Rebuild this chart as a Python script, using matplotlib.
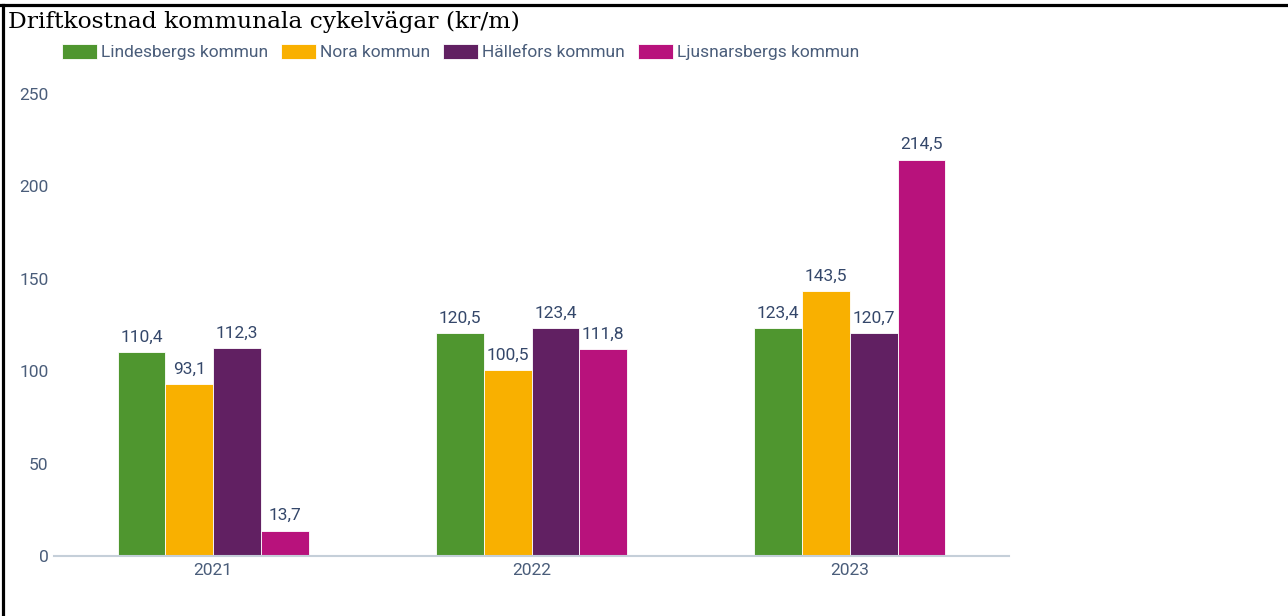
import matplotlib
matplotlib.use("Agg")
import matplotlib.pyplot as plt
from matplotlib.lines import Line2D
import numpy as np

years = ["2021", "2022", "2023"]
kommuner = ["Lindesbergs kommun", "Nora kommun", "Hällefors kommun", "Ljusnarsbergs kommun"]
lindesberg = [110.4, 120.5, 123.4]
nora = [93.1, 100.5, 143.5]
hallefors = [112.3, 123.4, 120.7]
ljusnarsberg = [13.7, 111.8, 214.5]
colors = ["#4f962f", "#f9b000", "#612062", "#b8127c"]
yticks = [0, 50, 100, 150, 200, 250]

TXT = "#4a5d7a"
LAB = "#34476a"
FS = 12.5

W, H = 1288, 616
fig = plt.figure(figsize=(W / 100, H / 100), dpi=100)
ax = fig.add_axes([54 / W, 1 - 556 / H, (1009 - 54) / W, (556 - 94) / H])

x = np.arange(len(years))
w = 0.15
series = [lindesberg, nora, hallefors, ljusnarsberg]
for i, (vals, col, name) in enumerate(zip(series, colors, kommuner)):
    pos = x + (i - 1.5) * w
    ax.bar(pos, vals, w, color=col, label=name, edgecolor="white", linewidth=0.6)
    for xp, v in zip(pos, vals):
        ax.text(xp, v + 4, ("%.1f" % v).replace(".", ","), ha="center", va="bottom",
                fontsize=FS, color=LAB, family="Roboto")

ax.set_xlim(-0.5, 2.5)
ax.set_ylim(0, 250)
ax.set_yticks(yticks)
ax.set_xticks(x)
ax.set_xticklabels(years)
for s in ["top", "right", "left"]:
    ax.spines[s].set_visible(False)
ax.spines["bottom"].set_color("#c5cfd9")
ax.spines["bottom"].set_linewidth(1.5)
ax.tick_params(axis="both", length=0, labelsize=FS, labelcolor=TXT)
ax.tick_params(axis="y", pad=4)
ax.tick_params(axis="x", pad=5)
for t in ax.get_xticklabels() + ax.get_yticklabels():
    t.set_family("Roboto")

fig.text(8 / W, 1 - 22 / H, "Driftkostnad kommunala cykelvägar (kr/m)", ha="left", va="center",
         fontsize=16.8, family="DejaVu Serif", color="black")

fig.legend(loc="center left", bbox_to_anchor=(62 / W, 1 - 52 / H), ncol=4, frameon=False,
           prop={"family": "Roboto", "size": FS}, labelcolor=TXT,
           handlelength=2.0, handleheight=0.95, handletextpad=0.25, columnspacing=0.75,
           borderpad=0, borderaxespad=0)

# table cell border (top and left)
fig.add_artist(Line2D([0, 1], [1 - 5 / H, 1 - 5 / H], transform=fig.transFigure, color="black", lw=2.3))
fig.add_artist(Line2D([3 / W, 3 / W], [0, 1 - 5 / H], transform=fig.transFigure, color="black", lw=2.3))

fig.savefig("out.png", dpi=100)
